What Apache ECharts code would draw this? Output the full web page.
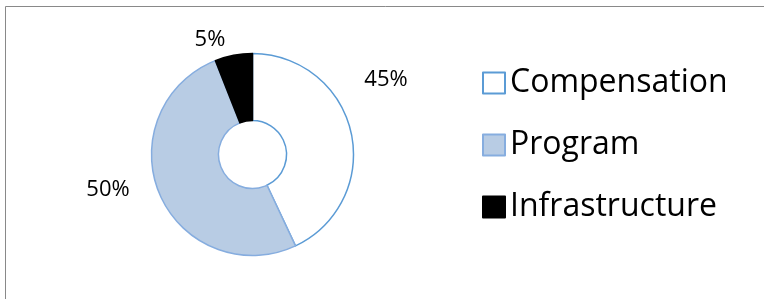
<!DOCTYPE html>
<html><head><meta charset="utf-8">
<script src="https://cdn.jsdelivr.net/npm/echarts@6/dist/echarts.min.js"></script>
<style>html,body{margin:0;padding:0;background:#fff}#c{width:764px;height:299px}</style>
</head><body><div id="c"></div>
<script>
// Data
const categories = ['Compensation', 'Program', 'Infrastructure'];
const values = [43, 51, 6];
const labelTexts = ['45%', '50%', '5%'];

// Styles
const fills = ['#FFFFFF', '#B8CCE4', '#000000'];
const borders = ['#5B9BD5', '#86ADDF', '#000000'];
const labelPos = [[386, 80], [108, 190], [210, 40]];

const chart = echarts.init(document.getElementById('c'), null, {renderer: 'canvas'});
const data = categories.map((name, i) => ({
  name: name,
  value: values[i],
  itemStyle: {color: fills[i], borderColor: borders[i], borderWidth: 1.5}
}));

chart.setOption({
  animation: false,
  backgroundColor: '#fff',
  graphic: [{
    type: 'polyline',
    shape: {points: [[5.5, 400], [5.5, 6.5], [900, 6.5]]},
    style: {stroke: '#898989', lineWidth: 1, fill: null},
    silent: true
  }],
  legend: {
    orient: 'vertical',
    left: 477,
    top: 58,
    icon: 'rect',
    itemWidth: 22,
    itemHeight: 21,
    itemGap: 22,
    selectedMode: false,
    textStyle: {fontFamily: 'Open Sans', fontSize: 32, color: '#000', lineHeight: 40},
    data: categories
  },
  series: [{
    type: 'pie',
    center: [252.5, 154.5],
    radius: [34, 101],
    startAngle: 90,
    clockwise: true,
    silent: true,
    data: data,
    label: {
      show: true,
      position: 'outside',
      fontFamily: 'Open Sans',
      fontSize: 22,
      color: '#000',
      formatter: p => labelTexts[p.dataIndex]
    },
    labelLine: {show: false},
    labelLayout: p => ({
      x: labelPos[p.dataIndex][0],
      y: labelPos[p.dataIndex][1],
      align: 'center',
      verticalAlign: 'middle'
    })
  }]
});
</script></body></html>
